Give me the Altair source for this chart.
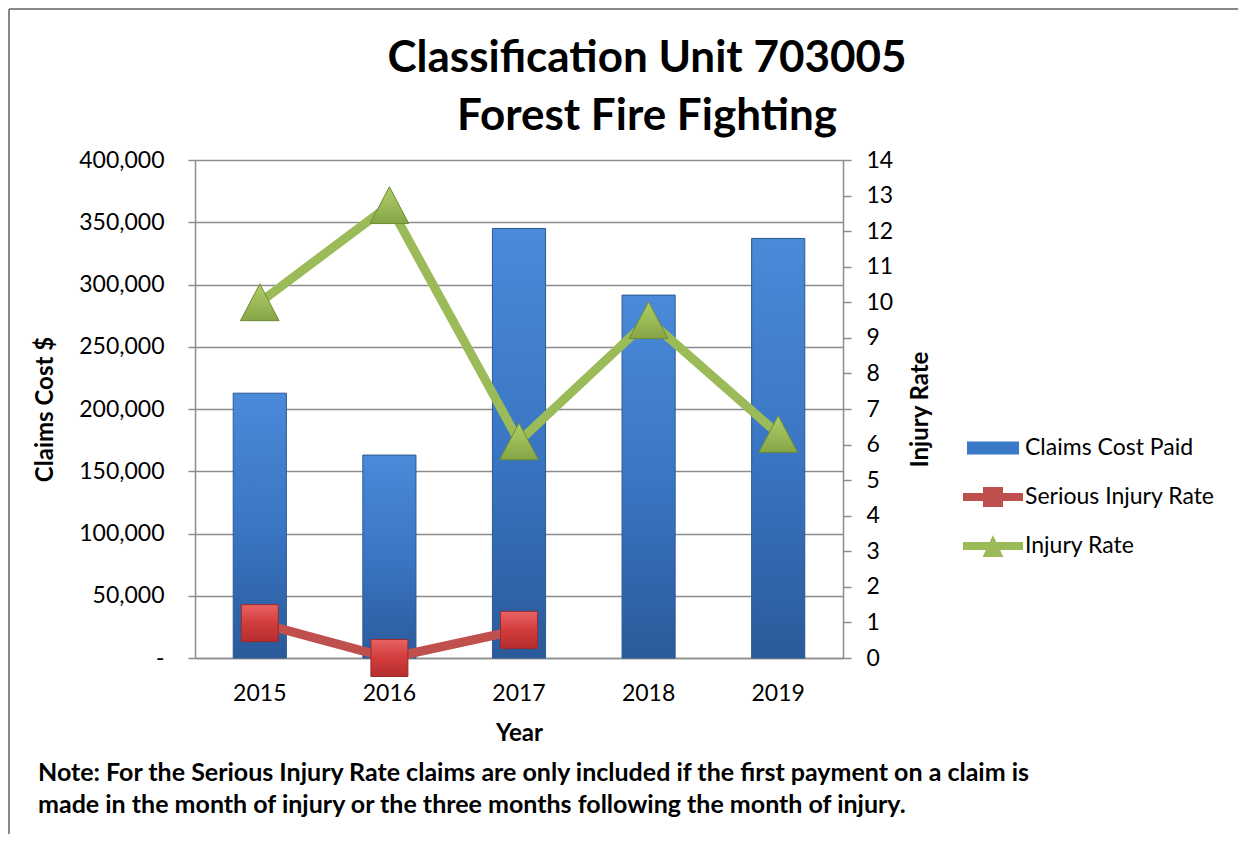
import altair as alt
import pandas as pd

# ---------------- data ----------------
YEARS = ["2015", "2016", "2017", "2018", "2019"]
CLAIMS_COST = [212700, 163000, 345000, 291500, 337000]
INJURY_RATE = [10.0, 12.73, 6.09, 9.5, 6.3]
SERIOUS_RATE = [0.98, 0.0, 0.79, None, None]
SERIES = ["Claims Cost Paid", "Serious Injury Rate", "Injury Rate"]
LEFT_TICKS = [0, 50000, 100000, 150000, 200000, 250000, 300000, 350000, 400000]
RIGHT_TICKS = [0, 1, 2, 3, 4, 5, 6, 7, 8, 9, 10, 11, 12, 13, 14]
TITLE = ["Classification Unit 703005", "Forest Fire Fighting"]
NOTE = [
    "Note:  For the Serious Injury Rate claims are only included if the first payment on a claim is",
    "made in the month of injury or the three months following the month of injury.",
]

FONT = "Lato"
GRID = "#8c8c8c"
BLUE = "#3a78c8"
RED = "#c0504d"
GREEN = "#9bbb59"
FS = 23

claims_df = pd.DataFrame({"Year": YEARS, "Claims": CLAIMS_COST})
serious_df = pd.DataFrame({"Year": YEARS, "Rate": SERIOUS_RATE})
injury_df = pd.DataFrame({"Year": YEARS, "Rate": INJURY_RATE})
legend_df = pd.DataFrame({"Series": SERIES})


def grad(c1, c2, c3):
    return alt.Gradient(
        gradient="linear",
        stops=[
            alt.GradientStop(color=c1, offset=0),
            alt.GradientStop(color=c2, offset=0.5),
            alt.GradientStop(color=c3, offset=1),
        ],
        x1=0, x2=0, y1=0, y2=1,
    )


x_enc = alt.X(
    "Year:N",
    sort=YEARS,
    scale=alt.Scale(paddingInner=0.59, paddingOuter=0.295),
    axis=alt.Axis(
        title="Year", labelAngle=0, ticks=False, tickSize=0,
        labelFont=FONT, labelFontSize=FS, labelColor="black", labelPadding=24,
        domainColor=GRID, domainWidth=1.5,
        titleFont=FONT, titleFontSize=FS + 1, titleFontWeight="bold", titleColor="black",
        titleY=75, titleBaseline="middle",
    ),
)

y_claims = alt.Y(
    "Claims:Q",
    scale=alt.Scale(domain=[0, 400000]),
    axis=alt.Axis(
        title="Claims Cost $", values=LEFT_TICKS,
        labelExpr="datum.value == 0 ? '-\u00a0\u00a0\u00a0\u00a0' : format(datum.value, ',')",
        grid=True, gridColor=GRID, gridWidth=1.5,
        domainColor=GRID, domainWidth=1.5, tickColor=GRID, tickWidth=1.5, tickSize=7,
        labelFont=FONT, labelFontSize=FS, labelColor="black", labelPadding=24,
        titleFont=FONT, titleFontSize=FS + 1, titleFontWeight="bold", titleColor="black",
        titleAngle=-90, titleBaseline="middle", titleX=-150, titleY=249,
    ),
)

y_rate = alt.Y(
    "Rate:Q",
    scale=alt.Scale(domain=[0, 14]),
    axis=alt.Axis(
        orient="right", title="Injury Rate", values=RIGHT_TICKS, grid=False,
        domainColor=GRID, domainWidth=1.5, tickColor=GRID, tickWidth=1.5, tickSize=8,
        labelFont=FONT, labelFontSize=FS, labelColor="black", labelPadding=15,
        titleFont=FONT, titleFontSize=FS + 1, titleFontWeight="bold", titleColor="black",
        titleAngle=-90, titleBaseline="middle", titleX=77, titleY=249,
    ),
)

bars = alt.Chart(claims_df).mark_bar(
    fill=grad("#4a8ad8", "#3a76c4", "#2b5a9a"), stroke="#2a5894", strokeWidth=1
).encode(x=x_enc, y=y_claims)

serious_line = alt.Chart(serious_df).mark_line(color=RED, strokeWidth=9).encode(x=x_enc, y=y_rate)
serious_pts = alt.Chart(serious_df).mark_point(
    shape="square", size=1369, filled=True, opacity=1,
    fill=grad("#e86363", "#d23c3c", "#b52d2d"), stroke="#9c2b2b", strokeWidth=1,
).encode(x=x_enc, y=y_rate)

injury_line = alt.Chart(injury_df).mark_line(color=GREEN, strokeWidth=9).encode(x=x_enc, y=y_rate)
injury_pts = alt.Chart(injury_df).mark_point(
    shape="M0,-0.95L1,0.95H-1Z", size=1500, filled=True, opacity=1,
    fill=grad("#adcc62", "#9bbb59", "#86a646"), stroke="#6f8b35", strokeWidth=1,
).encode(x=x_enc, y=y_rate)

rates = alt.layer(serious_line, serious_pts, injury_line, injury_pts)

legend_def = alt.Legend(
    title=None, orient="none", legendX=778, legendY=268, padding=0,
    symbolSize=1600, symbolStrokeWidth=0, symbolOpacity=1,
    labelFont=FONT, labelFontSize=FS, labelColor="black", labelOffset=12,
    rowPadding=17, labelLimit=400,
)
legend_layer = alt.Chart(legend_df).mark_point(filled=True, opacity=0, size=1600).encode(
    x=alt.value(0),
    y=alt.value(0),
    color=alt.Color("Series:N", sort=SERIES,
                    scale=alt.Scale(domain=SERIES, range=[BLUE, RED, GREEN]), legend=legend_def),
    shape=alt.Shape("Series:N", sort=SERIES,
                    scale=alt.Scale(domain=SERIES, range=[
                        "M-1.3,-0.33H1.3V0.33H-1.3Z",
                        "M-1.5,-0.2H1.5V0.2H-1.5Z M-0.5,-0.5H0.5V0.5H-0.5Z",
                        "M-1.5,-0.2H1.5V0.2H-1.5Z M0,-0.55L0.52,0.55H-0.52Z",
                    ]), legend=legend_def),
)

title_layers = [
    alt.Chart(pd.DataFrame({"t": [line]})).mark_text(
        align="center", baseline="alphabetic", font=FONT, fontSize=44, fontWeight="bold", color="black"
    ).encode(x=alt.value(452), y=alt.value(yy), text="t:N")
    for line, yy in zip(TITLE, [-88, -30])
]

note_layers = [
    alt.Chart(pd.DataFrame({"t": [line]})).mark_text(
        align="left", baseline="middle", font=FONT, fontSize=25, fontWeight="bold", color="black"
    ).encode(x=alt.value(-157), y=alt.value(yy), text="t:N")
    for line, yy in zip(NOTE, [613, 645])
]

frame_df = pd.DataFrame({"a": [0]})
frame_top = alt.Chart(frame_df).mark_rule(color="#888888", strokeWidth=2).encode(
    x=alt.value(-186), x2=alt.value(1100), y=alt.value(-151))
frame_left = alt.Chart(frame_df).mark_rule(color="#888888", strokeWidth=2).encode(
    x=alt.value(-186), y=alt.value(-151), y2=alt.value(700))

chart = alt.layer(
    frame_top, frame_left, bars, rates, legend_layer, *title_layers, *note_layers
).resolve_scale(y="independent").properties(
    width=648,
    height=498,
    autosize=alt.AutoSizeParams(type="none"),
    padding={"left": 187, "top": 152, "right": 395, "bottom": 176},
).configure_view(strokeWidth=0)

chart.save("out.html", embed_options={"renderer": "svg", "actions": False})
